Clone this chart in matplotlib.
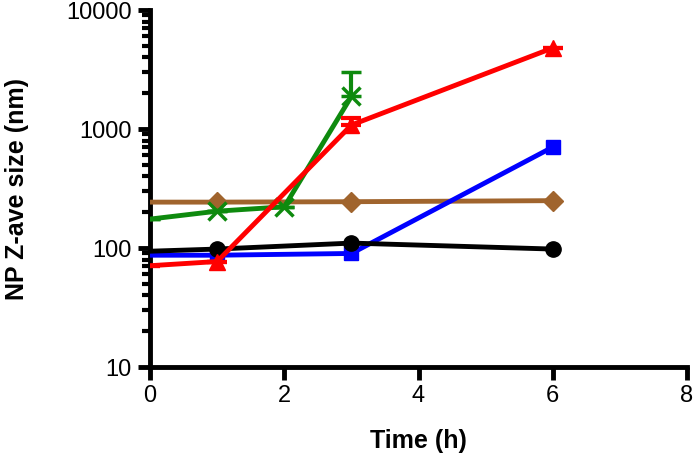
import matplotlib.pyplot as plt
from matplotlib.ticker import LogLocator, NullFormatter, FixedLocator

plt.rcParams['font.family'] = ['Liberation Sans', 'DejaVu Sans']

# time points (h)
t_black = [0, 1, 3, 6]
black = [94, 98, 110, 98]
t_blue = [0, 1, 3, 6]
blue = [87, 87, 90, 705]
t_red = [0, 1, 3, 6]
red = [71, 77, 1080, 4800]
red_err_up = [0, 0, 150, 0]
t_green = [0, 1, 2, 3]
green = [175, 204, 222, 1880]
green_err_up = [0, 0, 0, 1110]
t_brown = [0, 1, 3, 6]
brown = [243, 243, 245, 250]

fig = plt.figure(figsize=(6.93, 4.59), dpi=100)
ax = fig.add_axes([0.2165, 0.2004, 0.7749, 0.7778])

lw = 3.5
ms = 10
skip0 = slice(1, None)

ax.plot(t_brown, brown, color='#A0642D', lw=lw, marker='D', ms=ms, markevery=skip0, zorder=3)
ax.errorbar(t_green, green, yerr=[[0] * 4, green_err_up], color='#0E8A0E', lw=lw, marker='x',
            ms=ms + 3, mew=2.5, markevery=skip0, capsize=7, capthick=3, elinewidth=3, zorder=4)
ax.plot(t_black, black, color='black', lw=lw, marker='o', ms=ms + 1, markevery=skip0, zorder=5)
ax.plot(t_blue, blue, color='#0000FF', lw=lw, marker='s', ms=ms, markevery=skip0, zorder=4)
ax.errorbar(t_red, red, yerr=[[0] * 4, red_err_up], color='#FF0000', lw=lw, marker='^',
            ms=ms + 1, markevery=skip0, capsize=7, capthick=3, elinewidth=3, zorder=6)

ax.set_yscale('log')
ax.set_ylim(10, 10000)
ax.set_xlim(0, 8)
ax.set_xticks([0, 2, 4, 6, 8])
ax.yaxis.set_major_locator(FixedLocator([10, 100, 1000, 10000]))
ax.yaxis.set_minor_locator(LogLocator(base=10, subs=range(2, 10)))
ax.yaxis.set_minor_formatter(NullFormatter())
ax.set_yticklabels(['10', '100', '1000', '10000'])

for s in ['top', 'right']:
    ax.spines[s].set_visible(False)
for s in ['left', 'bottom']:
    ax.spines[s].set_linewidth(3.5)

ax.tick_params(axis='both', which='major', length=9, width=3.5, labelsize=17, pad=4)
ax.tick_params(axis='y', which='minor', length=6, width=3)

ax.set_xlabel('Time (h)', fontsize=18, fontweight='bold', labelpad=16)
ax.set_ylabel('NP Z-ave size (nm)', fontsize=18, fontweight='bold', labelpad=27)

fig.savefig('out.png', dpi=100)
